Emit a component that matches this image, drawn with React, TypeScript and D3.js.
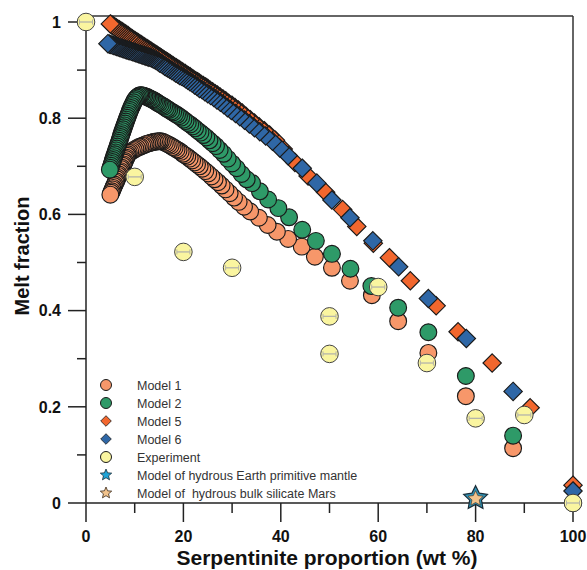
import React from 'react';
import * as d3 from 'd3';

const W = 587;
const H = 570;

const xMajorTicks = [0, 20, 40, 60, 80, 100];
const xMinorTicks = [10, 30, 50, 70, 90];
const yMajorTicks = [0, 0.2, 0.4, 0.6, 0.8, 1];
const yMinorTicks = [0.1, 0.3, 0.5, 0.7, 0.9];
const yTickLabels = ['0', '0.2', '0.4', '0.6', '0.8', '1'];

// Model 1 (circles)
const model1: [number, number][] = [
  [5, .641], [5.15, .645], [5.3, .648], [5.45, .652], [5.6, .655], [5.75, .659], [5.9, .662], [6.05, .666], [6.2, .669], [6.35, .673],
  [6.5, .676], [6.65, .68], [6.8, .683], [6.95, .687], [7.1, .69], [7.25, .694], [7.4, .697], [7.55, .701], [7.7, .704], [7.85, .708],
  [8, .711], [8.15, .715], [8.3, .718], [8.45, .722], [8.6, .725], [8.8, .728],
  [9.1, .73], [9.45, .732], [9.8, .734], [10.15, .736], [10.5, .738], [10.85, .74], [11.2, .741], [11.55, .743], [11.9, .744], [12.25, .746],
  [12.6, .747], [12.95, .748], [13.3, .749], [13.65, .75], [14, .751], [14.35, .751], [14.7, .752], [15.05, .752], [15.4, .752],
  [15.8, .751], [16.2, .749], [16.6, .747], [17, .745], [17.4, .743], [17.8, .74], [18.2, .738], [18.6, .735], [19, .733], [19.45, .73],
  [19.9, .726], [20.35, .723], [20.8, .72], [21.3, .716], [21.8, .712], [22.3, .708], [22.8, .704], [23.35, .7], [23.9, .695], [24.5, .69],
  [25.1, .685], [25.75, .679], [26.4, .673], [27.1, .667], [27.85, .66], [28.65, .652], [29.5, .644], [30.4, .635], [31.35, .626], [32.45, .616],
  [33.7, .606], [35.5, .593], [37.3, .578], [39.2, .564], [41.5, .549], [44.3, .533], [47, .512], [50.5, .489], [54.2, .462], [58.7, .432],
  [64.1, .378], [70.3, .312], [78, .222], [87.7, .114], [100, 0],
];

// Model 2 (circles)
const model2: [number, number][] = [
  [4.9, .693], [5.03, .697], [5.16, .701], [5.29, .705], [5.42, .709], [5.55, .713], [5.68, .717], [5.81, .721], [5.94, .725], [6.07, .729],
  [6.2, .733], [6.33, .737], [6.46, .741], [6.59, .745], [6.72, .749], [6.85, .753], [6.98, .757], [7.11, .761], [7.24, .765], [7.37, .769],
  [7.5, .773], [7.63, .777], [7.77, .781], [7.91, .785], [8.05, .789], [8.19, .793], [8.33, .797], [8.48, .801], [8.63, .805], [8.78, .809],
  [8.93, .813], [9.09, .817], [9.25, .821], [9.42, .825], [9.6, .829], [9.79, .833], [9.99, .837], [10.2, .84], [10.42, .843], [10.65, .845],
  [10.9, .847], [11.15, .848], [11.4, .848],
  [11.7, .847], [12, .846], [12.3, .845], [12.6, .844], [12.9, .842], [13.2, .841], [13.5, .839], [13.8, .838], [14.1, .836], [14.4, .834],
  [14.7, .832], [15, .83], [15.35, .828], [15.7, .826], [16.05, .824], [16.4, .821], [16.75, .819], [17.1, .817], [17.5, .814], [17.9, .812],
  [18.3, .809], [18.7, .807], [19.1, .804], [19.55, .801], [20, .797], [20.45, .794], [20.9, .79], [21.4, .787], [21.9, .783], [22.4, .779],
  [22.95, .774], [23.5, .77], [24.1, .765], [24.7, .76], [25.35, .754], [26, .748], [26.7, .742], [27.45, .734], [28.25, .726], [29.1, .716],
  [30, .706], [30.95, .696], [31.95, .684], [33, .673], [34.1, .665], [35.7, .648], [37.4, .631], [39.5, .613], [41.7, .594], [44.4, .568],
  [47.2, .545], [50.5, .518], [54.3, .487], [58.6, .451], [64.1, .406], [70.3, .355], [78, .264], [87.7, .14], [100, 0],
];

// Model 5 (diamonds)
const model5: [number, number][] = [
  [5, .996], [5.3, .994], [5.6, .992], [5.9, .99], [6.2, .988], [6.5, .986], [6.8, .984], [7.1, .982], [7.4, .98], [7.7, .978],
  [8, .976], [8.3, .974], [8.6, .972], [8.9, .969], [9.2, .967], [9.5, .965], [9.8, .963], [10.1, .961], [10.4, .959], [10.7, .957],
  [11, .955], [11.3, .953], [11.6, .951], [11.9, .949], [12.2, .947], [12.5, .945], [12.8, .943], [13.1, .941], [13.4, .939], [13.7, .937],
  [14, .935], [14.3, .933], [14.6, .931], [14.9, .929], [15.2, .927], [15.5, .925], [15.8, .923], [16.1, .921], [16.4, .919], [16.7, .917],
  [17, .915], [17.3, .913], [17.6, .911], [17.9, .909], [18.2, .907], [18.5, .905], [18.8, .903], [19.1, .901], [19.4, .899], [19.7, .897],
  [20, .895], [20.35, .893], [20.7, .89], [21.05, .888], [21.4, .886], [21.75, .883], [22.1, .881], [22.5, .878], [22.9, .876], [23.3, .873],
  [23.7, .87], [24.1, .868], [24.55, .865], [25, .862], [25.5, .858], [26, .855], [26.5, .851], [27, .848], [27.55, .844], [28.1, .84],
  [28.7, .836], [29.3, .831], [29.95, .827], [30.6, .822], [31.3, .817], [32.05, .811], [32.85, .804], [33.7, .797], [34.6, .79], [35.55, .782],
  [36.6, .774], [37.7, .765], [38.9, .754], [40.5, .736], [42.9, .708], [45.6, .68], [49.2, .646], [52.7, .61], [55.6, .575], [59, .54],
  [62.3, .51], [66.6, .462], [71.9, .41], [76.4, .356], [83.4, .291], [91.2, .198], [100, .037],
];

// Model 6 (diamonds)
const model6: [number, number][] = [
  [4.5, .955], [4.8, .954], [5.1, .953], [5.4, .952], [5.7, .951], [6, .95], [6.3, .949], [6.6, .948], [6.9, .947], [7.2, .946],
  [7.5, .945], [7.8, .944], [8.1, .943], [8.4, .942], [8.7, .941], [9, .94], [9.3, .939], [9.6, .938], [9.9, .937], [10.2, .936],
  [10.5, .935], [10.8, .934], [11.1, .933], [11.4, .932], [11.7, .931], [12, .93], [12.3, .929], [12.6, .928], [12.9, .927], [13.2, .926],
  [13.5, .925], [13.8, .923], [14.1, .922], [14.4, .92], [14.75, .918], [15.1, .915], [15.45, .913], [15.8, .911], [16.15, .908], [16.5, .906],
  [16.85, .904], [17.2, .902], [17.6, .899], [18, .897], [18.4, .894], [18.8, .892], [19.2, .889], [19.6, .887], [20, .885], [20.45, .882],
  [20.9, .879], [21.35, .876], [21.8, .873], [22.3, .869], [22.8, .866], [23.3, .862], [23.85, .859], [24.4, .855], [25, .851], [25.6, .847],
  [26.25, .843], [26.9, .838], [27.6, .833], [28.3, .828], [29.05, .822], [29.85, .816], [30.7, .81], [31.6, .803], [32.55, .796], [33.55, .788],
  [34.6, .78], [35.7, .772], [36.9, .763], [38.3, .752], [39.8, .738], [41.5, .722], [44.4, .696], [47.4, .665], [50.5, .63], [54.2, .593],
  [58.9, .545], [64.2, .491], [70.3, .425], [78.1, .342], [87.7, .232], [100, .025],
];

const experiment: [number, number][] = [
  [0, 1.0], [10, .678], [20, .522], [30, .489], [50, .388], [50, .31], [60, .449], [70, .291], [80, .176], [90, .183], [100, 0],
];

const earthMantle: [number, number][] = [[80, .01]];
const marsSilicate: [number, number][] = [[80, .01]];

const legendLabels = [
  'Model 1', 'Model 2', 'Model 5', 'Model 6', 'Experiment',
  'Model of hydrous Earth primitive mantle', 'Model of  hydrous bulk silicate Mars',
];

const C1 = '#F7976A';
const C2 = '#2E9A68';
const C5 = '#F2672E';
const C6 = '#2F67A6';
const CE = '#FAF5A0';
const CEarth = '#2F95B9';
const CEarthLeg = '#1FA3D6';
const CMars = '#F2C38C';
const STROKE = '#1a1a1a';
const FONT = '"Liberation Sans", Arial, Helvetica, sans-serif';

const x = d3.scaleLinear().domain([0, 100]).range([86, 573]);
const y = d3.scaleLinear().domain([0, 1]).range([503, 22]);

function diamond(r: number) {
  return `M0,${-r}L${r},0L0,${r}L${-r},0Z`;
}
function star(R: number, ratio = 0.48) {
  const pts: string[] = [];
  for (let i = 0; i < 10; i++) {
    const a = -Math.PI / 2 + (i * Math.PI) / 5;
    const rr = i % 2 === 0 ? R : R * ratio;
    pts.push(`${(rr * Math.cos(a)).toFixed(2)},${(rr * Math.sin(a)).toFixed(2)}`);
  }
  return 'M' + pts.join('L') + 'Z';
}

export default function App() {
  const rev = (a: [number, number][]) => a.slice().reverse();
  const top = y(1.0125);
  const left = x(0);
  const right = x(100);
  const bottom = y(0);
  const legendX = 106;
  const legendTextX = 137;
  const legendY0 = 385;
  const legendDy = 18;
  const mw = 1.15;

  return (
    <svg width={W} height={H} style={{ position: 'absolute', left: 0, top: 0, background: '#fff' }} fontFamily={FONT}>
      <rect x={0} y={0} width={W} height={H} fill="#fff" />
      {/* frame */}
      <line x1={left} x2={right} y1={top} y2={top} stroke="#333" strokeWidth={1.5} />
      <line x1={right} x2={right} y1={top} y2={bottom} stroke="#333" strokeWidth={1.5} />
      <line x1={left} x2={left} y1={top} y2={bottom} stroke="#222" strokeWidth={1.5} />
      <line x1={left} x2={right} y1={bottom} y2={bottom} stroke="#222" strokeWidth={1.5} />
      {/* y ticks */}
      {yMajorTicks.map((t, i) => (
        <g key={'ym' + i}>
          <line x1={left - 18} x2={left} y1={y(t)} y2={y(t)} stroke="#222" strokeWidth={1.5} />
          <text x={left - 25} y={y(t)} dy="0.36em" textAnchor="end" fontSize={16} fontWeight="bold" fill="#111">{yTickLabels[i]}</text>
        </g>
      ))}
      {yMinorTicks.map((t, i) => (
        <line key={'yn' + i} x1={left - 9} x2={left} y1={y(t)} y2={y(t)} stroke="#222" strokeWidth={1.5} />
      ))}
      {/* x ticks */}
      {xMajorTicks.map((t, i) => (
        <g key={'xm' + i}>
          <line x1={x(t)} x2={x(t)} y1={bottom} y2={bottom + 19} stroke="#222" strokeWidth={1.5} />
          <text x={x(t)} y={bottom + 33} dy="0.36em" textAnchor="middle" fontSize={16} fontWeight="bold" fill="#111">{t}</text>
        </g>
      ))}
      {xMinorTicks.map((t, i) => (
        <line key={'xn' + i} x1={x(t)} x2={x(t)} y1={bottom} y2={bottom + 10} stroke="#222" strokeWidth={1.5} />
      ))}
      {/* axis titles */}
      <text x={327} y={565} textAnchor="middle" fontSize={21} fontWeight="bold" fill="#111">Serpentinite proportion (wt %)</text>
      <text transform={`translate(29,256) rotate(-90)`} textAnchor="middle" fontSize={20} fontWeight="bold" fill="#111">Melt fraction</text>

      {/* model series (drawn from end to start) */}
      <g>
        {rev(model1).map((d, i) => (
          <circle key={'m1' + i} cx={x(d[0])} cy={y(d[1])} r={8.4} fill={C1} stroke={STROKE} strokeWidth={mw} />
        ))}
      </g>
      <g>
        {rev(model2).map((d, i) => (
          <circle key={'m2' + i} cx={x(d[0])} cy={y(d[1])} r={8.4} fill={C2} stroke={STROKE} strokeWidth={mw} />
        ))}
      </g>
      <g>
        {rev(model5).map((d, i) => (
          <path key={'m5' + i} d={diamond(9.2)} transform={`translate(${x(d[0])},${y(d[1])})`} fill={C5} stroke={STROKE} strokeWidth={mw} />
        ))}
      </g>
      <g>
        {rev(model6).map((d, i) => (
          <path key={'m6' + i} d={diamond(9.2)} transform={`translate(${x(d[0])},${y(d[1])})`} fill={C6} stroke={STROKE} strokeWidth={mw} />
        ))}
      </g>
      {/* experiment */}
      <g>
        {experiment.map((d, i) => {
          const cx = x(d[0]);
          const cy = y(d[1]);
          return (
            <g key={'ex' + i}>
              <circle cx={cx} cy={cy} r={8.8} fill={CE} stroke="#444" strokeWidth={1} />
              <line x1={cx - 6.5} x2={cx + 6.5} y1={cy} y2={cy} stroke="#b4b4aa" strokeWidth={1.3} />
              <line x1={cx - 6.5} x2={cx - 6.5} y1={cy - 2.5} y2={cy + 2.5} stroke="#b4b4aa" strokeWidth={1} />
              <line x1={cx + 6.5} x2={cx + 6.5} y1={cy - 2.5} y2={cy + 2.5} stroke="#b4b4aa" strokeWidth={1} />
            </g>
          );
        })}
      </g>
      {/* stars */}
      {earthMantle.map((d, i) => (
        <path key={'ea' + i} d={star(12.5, 0.5)} transform={`translate(${x(d[0])},${y(d[1])})`} fill={CEarth} stroke="#1a2d38" strokeWidth={1.2} />
      ))}
      {marsSilicate.map((d, i) => (
        <path key={'ma' + i} d={star(8, 0.48)} transform={`translate(${x(d[0])},${y(d[1]) + 0.5})`} fill={CMars} stroke="#4a3a2a" strokeWidth={0.7} />
      ))}

      {/* legend */}
      <g>
        <circle cx={legendX} cy={legendY0} r={5.5} fill={C1} stroke={STROKE} strokeWidth={1} />
        <circle cx={legendX} cy={legendY0 + legendDy} r={5.5} fill={C2} stroke={STROKE} strokeWidth={1} />
        <path d={diamond(5.3)} transform={`translate(${legendX},${legendY0 + 2 * legendDy})`} fill={C5} stroke={STROKE} strokeWidth={0.8} />
        <path d={diamond(5.3)} transform={`translate(${legendX},${legendY0 + 3 * legendDy})`} fill={C6} stroke={STROKE} strokeWidth={0.8} />
        <circle cx={legendX} cy={legendY0 + 4 * legendDy} r={5.5} fill={CE} stroke={STROKE} strokeWidth={1} />
        <path d={star(6, 0.45)} transform={`translate(${legendX},${legendY0 + 5 * legendDy})`} fill={CEarthLeg} stroke="#1a2d38" strokeWidth={0.8} />
        <path d={star(6, 0.45)} transform={`translate(${legendX},${legendY0 + 6 * legendDy})`} fill={CMars} stroke="#3a2a1a" strokeWidth={0.8} />
        {legendLabels.map((l, i) => (
          <text key={'lt' + i} x={legendTextX} y={legendY0 + i * legendDy} dy="0.36em" fontSize={12.5} fill="#333" style={{ whiteSpace: 'pre' }}>{l}</text>
        ))}
      </g>
    </svg>
  );
}
